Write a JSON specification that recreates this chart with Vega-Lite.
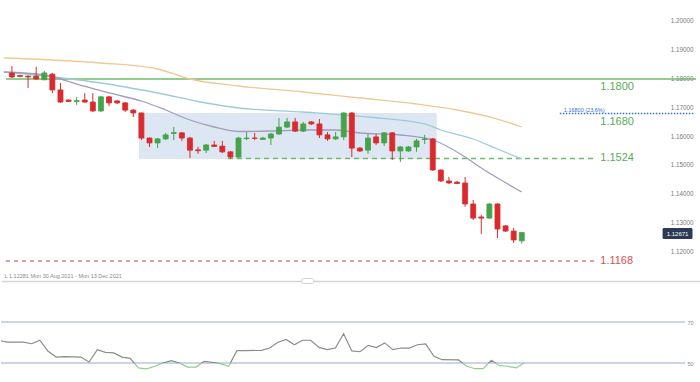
{
  "$schema": "https://vega.github.io/schema/vega-lite/v6.json",
  "padding": 0,
  "spacing": 0,
  "bounds": "flush",
  "config": {"view": {"stroke": null}, "font": "Liberation Sans", "axis": {"grid": false, "title": null}},
  "resolve": {"scale": {"x": "independent", "y": "independent"}},
  "datasets": {
    "candles": [
      {"i":0,"o":1.18208,"h":1.18451,"l":1.18035,"c":1.18069},
      {"i":1,"o":1.1812,"h":1.1814,"l":1.1806,"c":1.1809},
      {"i":2,"o":1.1810,"h":1.1812,"l":1.1769,"c":1.1807},
      {"i":3,"o":1.1810,"h":1.1842,"l":1.1797,"c":1.1800},
      {"i":4,"o":1.1797,"h":1.1828,"l":1.1797,"c":1.1821},
      {"i":5,"o":1.1817,"h":1.1821,"l":1.1751,"c":1.1762},
      {"i":6,"o":1.1762,"h":1.1786,"l":1.1717,"c":1.1720},
      {"i":7,"o":1.1727,"h":1.1729,"l":1.1720,"c":1.1722},
      {"i":8,"o":1.1722,"h":1.1738,"l":1.1710,"c":1.1725},
      {"i":9,"o":1.1727,"h":1.1751,"l":1.1717,"c":1.1720},
      {"i":10,"o":1.1720,"h":1.1751,"l":1.1685,"c":1.1689},
      {"i":11,"o":1.1689,"h":1.1741,"l":1.1685,"c":1.1738},
      {"i":12,"o":1.1738,"h":1.1741,"l":1.1706,"c":1.1717},
      {"i":13,"o":1.1724,"h":1.1727,"l":1.1713,"c":1.1717},
      {"i":14,"o":1.1717,"h":1.1720,"l":1.1685,"c":1.1692},
      {"i":15,"o":1.1692,"h":1.1696,"l":1.1668,"c":1.1682},
      {"i":16,"o":1.1682,"h":1.1684,"l":1.1588,"c":1.1595},
      {"i":17,"o":1.1595,"h":1.1597,"l":1.1564,"c":1.1578},
      {"i":18,"o":1.1578,"h":1.1595,"l":1.1560,"c":1.1592},
      {"i":19,"o":1.1592,"h":1.1613,"l":1.1588,"c":1.1606},
      {"i":20,"o":1.1611,"h":1.1633,"l":1.1588,"c":1.1614},
      {"i":21,"o":1.1613,"h":1.1616,"l":1.1585,"c":1.1595},
      {"i":22,"o":1.1595,"h":1.1599,"l":1.1526,"c":1.1553},
      {"i":23,"o":1.1554,"h":1.1564,"l":1.1540,"c":1.1551},
      {"i":24,"o":1.1553,"h":1.1574,"l":1.1543,"c":1.1571},
      {"i":25,"o":1.1571,"h":1.1585,"l":1.1564,"c":1.1566},
      {"i":26,"o":1.1567,"h":1.1585,"l":1.1543,"c":1.1547},
      {"i":27,"o":1.1547,"h":1.1550,"l":1.1522,"c":1.1529},
      {"i":28,"o":1.1529,"h":1.1599,"l":1.1526,"c":1.1595},
      {"i":29,"o":1.1593,"h":1.1616,"l":1.1588,"c":1.1595},
      {"i":30,"o":1.1595,"h":1.1613,"l":1.1588,"c":1.1594},
      {"i":31,"o":1.1590,"h":1.1599,"l":1.1588,"c":1.1595},
      {"i":32,"o":1.1595,"h":1.1613,"l":1.1571,"c":1.1609},
      {"i":33,"o":1.1609,"h":1.1665,"l":1.1606,"c":1.1633},
      {"i":34,"o":1.1633,"h":1.1665,"l":1.1630,"c":1.1651},
      {"i":35,"o":1.1651,"h":1.1665,"l":1.1616,"c":1.1619},
      {"i":36,"o":1.1619,"h":1.1651,"l":1.1616,"c":1.1644},
      {"i":37,"o":1.1651,"h":1.1654,"l":1.1640,"c":1.1644},
      {"i":38,"o":1.1644,"h":1.1661,"l":1.1595,"c":1.1606},
      {"i":39,"o":1.1606,"h":1.1616,"l":1.1585,"c":1.1592},
      {"i":40,"o":1.1592,"h":1.1616,"l":1.1588,"c":1.1599},
      {"i":41,"o":1.1599,"h":1.1685,"l":1.1588,"c":1.1682},
      {"i":42,"o":1.1682,"h":1.1685,"l":1.1529,"c":1.1560},
      {"i":43,"o":1.1560,"h":1.1564,"l":1.1547,"c":1.1550},
      {"i":44,"o":1.1553,"h":1.1609,"l":1.1540,"c":1.1595},
      {"i":45,"o":1.1599,"h":1.1609,"l":1.1571,"c":1.1578},
      {"i":46,"o":1.1578,"h":1.1616,"l":1.1567,"c":1.1613},
      {"i":47,"o":1.1613,"h":1.1616,"l":1.1519,"c":1.1550},
      {"i":48,"o":1.1550,"h":1.1567,"l":1.1512,"c":1.1564},
      {"i":49,"o":1.1550,"h":1.1567,"l":1.1547,"c":1.1564},
      {"i":50,"o":1.1564,"h":1.1592,"l":1.1547,"c":1.1585},
      {"i":51,"o":1.1590,"h":1.1606,"l":1.1574,"c":1.1592},
      {"i":52,"o":1.1592,"h":1.1595,"l":1.1481,"c":1.1484},
      {"i":53,"o":1.1484,"h":1.1486,"l":1.1442,"c":1.1446},
      {"i":54,"o":1.1446,"h":1.1460,"l":1.1435,"c":1.1439},
      {"i":55,"o":1.1442,"h":1.1446,"l":1.1435,"c":1.1437},
      {"i":56,"o":1.1439,"h":1.1460,"l":1.1356,"c":1.1366},
      {"i":57,"o":1.1366,"h":1.1380,"l":1.1310,"c":1.1317},
      {"i":58,"o":1.1321,"h":1.1328,"l":1.1262,"c":1.1317},
      {"i":59,"o":1.1317,"h":1.1369,"l":1.1314,"c":1.1366},
      {"i":60,"o":1.1366,"h":1.1369,"l":1.1248,"c":1.1279},
      {"i":61,"o":1.1290,"h":1.1293,"l":1.1269,"c":1.1272},
      {"i":62,"o":1.1272,"h":1.1283,"l":1.1231,"c":1.1241},
      {"i":63,"o":1.1238,"h":1.1269,"l":1.12281,"c":1.12671}
    ],
    "ma": [
      {"s":"ma100","i":-1,"v":1.18729},{"s":"ma100","i":5,"v":1.18660},{"s":"ma100","i":11,"v":1.18556},{"s":"ma100","i":18,"v":1.18347},{"s":"ma100","i":22,"v":1.18000},{"s":"ma100","i":28,"v":1.17757},{"s":"ma100","i":36,"v":1.17549},{"s":"ma100","i":43,"v":1.17340},{"s":"ma100","i":50,"v":1.17132},{"s":"ma100","i":55,"v":1.16924},{"s":"ma100","i":60,"v":1.16611},{"s":"ma100","i":63,"v":1.16333},
      {"s":"ma50","i":-1,"v":1.18243},{"s":"ma50","i":4,"v":1.18104},{"s":"ma50","i":11,"v":1.17861},{"s":"ma50","i":18,"v":1.17514},{"s":"ma50","i":24,"v":1.17167},{"s":"ma50","i":28,"v":1.16993},{"s":"ma50","i":36,"v":1.16854},{"s":"ma50","i":44,"v":1.16681},{"s":"ma50","i":51,"v":1.16438},{"s":"ma50","i":53,"v":1.16229},{"s":"ma50","i":57,"v":1.15917},{"s":"ma50","i":60,"v":1.15569},{"s":"ma50","i":63,"v":1.15222},
      {"s":"ma20","i":-1,"v":1.18243},{"s":"ma20","i":4,"v":1.18139},{"s":"ma20","i":8,"v":1.17826},{"s":"ma20","i":12,"v":1.17514},{"s":"ma20","i":16,"v":1.17236},{"s":"ma20","i":19,"v":1.16924},{"s":"ma20","i":22,"v":1.16576},{"s":"ma20","i":25,"v":1.16333},{"s":"ma20","i":28,"v":1.16177},{"s":"ma20","i":32,"v":1.16194},{"s":"ma20","i":36,"v":1.16229},{"s":"ma20","i":40,"v":1.16229},{"s":"ma20","i":43,"v":1.16125},{"s":"ma20","i":48,"v":1.16056},{"s":"ma20","i":52,"v":1.15882},{"s":"ma20","i":56,"v":1.15292},{"s":"ma20","i":58,"v":1.14910},{"s":"ma20","i":60,"v":1.14563},{"s":"ma20","i":63,"v":1.14076}
    ],
    "rsi": [
      {"i":-1,"v":61.1},{"i":0,"v":60.2},{"i":2,"v":60.2},{"i":3,"v":59.4},{"i":4,"v":61.1},{"i":5,"v":55.7},{"i":6,"v":52.9},{"i":7,"v":53.1},{"i":9,"v":52.9},{"i":10,"v":50.5},{"i":11,"v":56.5},{"i":12,"v":55.2},{"i":13,"v":54.9},{"i":14,"v":52.9},{"i":15,"v":52.3},{"i":16,"v":47.6},{"i":17,"v":47.1},{"i":18,"v":48.4},{"i":19,"v":50},{"i":20,"v":51.1},{"i":21,"v":50},{"i":22,"v":48},{"i":23,"v":48},{"i":24,"v":50.8},{"i":25,"v":50.3},{"i":26,"v":49.7},{"i":27,"v":48.4},{"i":28,"v":56},{"i":29,"v":56},{"i":31,"v":56.2},{"i":32,"v":57.3},{"i":33,"v":60.1},{"i":34,"v":61.5},{"i":35,"v":58.9},{"i":36,"v":61.1},{"i":37,"v":61.1},{"i":38,"v":57.6},{"i":39,"v":56.5},{"i":40,"v":57.3},{"i":41,"v":64.3},{"i":42,"v":55.9},{"i":43,"v":55.5},{"i":44,"v":58.6},{"i":45,"v":57.5},{"i":46,"v":59.8},{"i":47,"v":56.5},{"i":48,"v":57.3},{"i":49,"v":57.3},{"i":50,"v":58.9},{"i":51,"v":59.3},{"i":52,"v":53.3},{"i":53,"v":51.6},{"i":55,"v":51.5},{"i":56,"v":48.4},{"i":57,"v":47.2},{"i":58,"v":47.2},{"i":59,"v":51.3},{"i":60,"v":48.7},{"i":61,"v":48.4},{"i":62,"v":47.6},{"i":63,"v":50}
    ],
    "levels": [
      {"level":1.18,"label":"1.1800","kind":"res"},
      {"level":1.168,"label":"1.1680","kind":"fib"},
      {"level":1.1524,"label":"1.1524","kind":"sup"},
      {"level":1.1168,"label":"1.1168","kind":"tgt"}
    ],
    "ticks": [{"t":1.12},{"t":1.13},{"t":1.14},{"t":1.15},{"t":1.16},{"t":1.17},{"t":1.18},{"t":1.19},{"t":1.20}],
    "rsiLevels": [{"v":70},{"v":50}],
    "last": [{"price":1.12671,"label":"1.12671","note":"L 1.12281   Mon 30 Aug 2021 - Mon 13 Dec 2021"}]
  },
  "vconcat": [
    {
      "width": 700,
      "height": 281,
      "layer": [
        {
          "data": {"name": "last"},
          "mark": {"type": "rect", "fill": "#dbe5f2", "opacity": 0.95},
          "encoding": {
            "x": {"datum": 15.7, "type": "quantitative", "scale": {"domain": [-0.73, 84.53], "nice": false, "zero": false}, "axis": {"domain": true, "domainColor": "#d4d4d4", "domainWidth": 1.5, "ticks": false, "labels": false, "title": null}},
            "x2": {"datum": 52.5},
            "y": {"datum": 1.15222, "type": "quantitative", "scale": {"domain": [1.10986, 1.20743], "nice": false, "zero": false}, "axis": null},
            "y2": {"datum": 1.16819}
          }
        },
        {
          "data": {"name": "ticks"},
          "mark": {"type": "text", "align": "left", "baseline": "middle", "fontSize": 6.3, "fill": "#7a7a7a"},
          "encoding": {
            "x": {"datum": 81.4, "type": "quantitative", "scale": {"domain": [-0.73, 84.53], "nice": false, "zero": false}},
            "y": {"field": "t", "type": "quantitative", "scale": {"domain": [1.10986, 1.20743], "nice": false, "zero": false}},
            "text": {"field": "t", "format": ".5f"}
          }
        },
        {
          "data": {"name": "levels"},
          "transform": [{"filter": "datum.kind == 'res'"}],
          "mark": {"type": "rule", "color": "#6dbd6d", "strokeWidth": 1.5},
          "encoding": {"x": {"datum": -0.73, "type": "quantitative", "scale": {"domain": [-0.73, 84.53], "nice": false, "zero": false}}, "x2": {"datum": 84.53}, "y": {"field": "level", "type": "quantitative", "scale": {"domain": [1.10986, 1.20743], "nice": false, "zero": false}}}
        },
        {
          "data": {"name": "levels"},
          "transform": [{"filter": "datum.kind == 'fib'"}],
          "mark": {"type": "rule", "color": "#3a6fc0", "strokeWidth": 1.6, "strokeDash": [1.5, 1.5]},
          "encoding": {"x": {"datum": 67.7, "type": "quantitative", "scale": {"domain": [-0.73, 84.53], "nice": false, "zero": false}}, "x2": {"datum": 84.3}, "y": {"field": "level", "type": "quantitative", "scale": {"domain": [1.10986, 1.20743], "nice": false, "zero": false}}}
        },
        {
          "data": {"name": "levels"},
          "transform": [{"filter": "datum.kind == 'sup'"}],
          "mark": {"type": "rule", "color": "#6dbb6d", "strokeWidth": 1.3, "strokeDash": [5, 4]},
          "encoding": {"x": {"datum": 26.7, "type": "quantitative", "scale": {"domain": [-0.73, 84.53], "nice": false, "zero": false}}, "x2": {"datum": 72.1}, "y": {"field": "level", "type": "quantitative", "scale": {"domain": [1.10986, 1.20743], "nice": false, "zero": false}}}
        },
        {
          "data": {"name": "levels"},
          "transform": [{"filter": "datum.kind == 'tgt'"}],
          "mark": {"type": "rule", "color": "#e07878", "strokeWidth": 1.3, "strokeDash": [4, 4]},
          "encoding": {"x": {"datum": -0.73, "type": "quantitative", "scale": {"domain": [-0.73, 84.53], "nice": false, "zero": false}}, "x2": {"datum": 72.1}, "y": {"field": "level", "type": "quantitative", "scale": {"domain": [1.10986, 1.20743], "nice": false, "zero": false}}}
        },
        {
          "data": {"name": "ma"},
          "mark": {"type": "line", "strokeWidth": 1.3, "clip": true, "interpolate": "monotone"},
          "encoding": {
            "x": {"field": "i", "type": "quantitative", "scale": {"domain": [-0.73, 84.53], "nice": false, "zero": false}},
            "y": {"field": "v", "type": "quantitative", "scale": {"domain": [1.10986, 1.20743], "nice": false, "zero": false}},
            "color": {"field": "s", "type": "nominal", "scale": {"domain": ["ma20", "ma50", "ma100"], "range": ["#a39cbd", "#9ccbd8", "#efc995"]}, "legend": null}
          }
        },
        {
          "data": {"name": "candles"},
          "mark": {"type": "rule", "strokeWidth": 1},
          "encoding": {
            "x": {"field": "i", "type": "quantitative", "scale": {"domain": [-0.73, 84.53], "nice": false, "zero": false}},
            "y": {"field": "l", "type": "quantitative", "scale": {"domain": [1.10986, 1.20743], "nice": false, "zero": false}},
            "y2": {"field": "h"},
            "stroke": {"condition": {"test": "datum.c >= datum.o", "value": "#45a34b"}, "value": "#d92b2f"}
          }
        },
        {
          "data": {"name": "candles"},
          "mark": {"type": "bar", "size": 5, "strokeWidth": 0.8},
          "encoding": {
            "x": {"field": "i", "type": "quantitative", "scale": {"domain": [-0.73, 84.53], "nice": false, "zero": false}},
            "y": {"field": "o", "type": "quantitative", "scale": {"domain": [1.10986, 1.20743], "nice": false, "zero": false}},
            "y2": {"field": "c"},
            "fill": {"condition": {"test": "datum.c >= datum.o", "value": "#45a34b"}, "value": "#d92b2f"},
            "stroke": {"condition": {"test": "datum.c >= datum.o", "value": "#45a34b"}, "value": "#d92b2f"}
          }
        },
        {
          "data": {"name": "levels"},
          "transform": [{"filter": "datum.kind == 'res' || datum.kind == 'fib'"}],
          "mark": {"type": "text", "align": "left", "baseline": "middle", "dy": 8, "fontSize": 11, "fill": "#5aaa5a"},
          "encoding": {"x": {"datum": 72.7, "type": "quantitative", "scale": {"domain": [-0.73, 84.53], "nice": false, "zero": false}}, "y": {"field": "level", "type": "quantitative", "scale": {"domain": [1.10986, 1.20743], "nice": false, "zero": false}}, "text": {"field": "label"}}
        },
        {
          "data": {"name": "levels"},
          "transform": [{"filter": "datum.kind == 'sup'"}],
          "mark": {"type": "text", "align": "left", "baseline": "middle", "fontSize": 11, "fill": "#5aaa5a"},
          "encoding": {"x": {"datum": 72.7, "type": "quantitative", "scale": {"domain": [-0.73, 84.53], "nice": false, "zero": false}}, "y": {"field": "level", "type": "quantitative", "scale": {"domain": [1.10986, 1.20743], "nice": false, "zero": false}}, "text": {"field": "label"}}
        },
        {
          "data": {"name": "levels"},
          "transform": [{"filter": "datum.kind == 'tgt'"}],
          "mark": {"type": "text", "align": "left", "baseline": "middle", "fontSize": 11, "fill": "#d9534f"},
          "encoding": {"x": {"datum": 72.7, "type": "quantitative", "scale": {"domain": [-0.73, 84.53], "nice": false, "zero": false}}, "y": {"field": "level", "type": "quantitative", "scale": {"domain": [1.10986, 1.20743], "nice": false, "zero": false}}, "text": {"field": "label"}}
        },
        {
          "data": {"name": "levels"},
          "transform": [{"filter": "datum.kind == 'fib'"}],
          "mark": {"type": "text", "align": "left", "baseline": "middle", "dy": -4, "fontSize": 5.5, "fill": "#3a6fc0"},
          "encoding": {"x": {"datum": 68.2, "type": "quantitative", "scale": {"domain": [-0.73, 84.53], "nice": false, "zero": false}}, "y": {"field": "level", "type": "quantitative", "scale": {"domain": [1.10986, 1.20743], "nice": false, "zero": false}}, "text": {"value": "1.16800 (23.6%)"}}
        },
        {
          "data": {"name": "last"},
          "mark": {"type": "rect", "fill": "#2c3a56", "cornerRadius": 1.5},
          "encoding": {"x": {"datum": 80.4, "type": "quantitative", "scale": {"domain": [-0.73, 84.53], "nice": false, "zero": false}}, "x2": {"datum": 84.1}, "y": {"datum": 1.12826, "type": "quantitative", "scale": {"domain": [1.10986, 1.20743], "nice": false, "zero": false}}, "y2": {"datum": 1.12444}}
        },
        {
          "data": {"name": "last"},
          "mark": {"type": "text", "align": "center", "baseline": "middle", "fontSize": 6, "fill": "#ffffff"},
          "encoding": {"x": {"datum": 82.25, "type": "quantitative", "scale": {"domain": [-0.73, 84.53], "nice": false, "zero": false}}, "y": {"datum": 1.12635, "type": "quantitative", "scale": {"domain": [1.10986, 1.20743], "nice": false, "zero": false}}, "text": {"field": "label"}}
        },
        {
          "data": {"name": "last"},
          "mark": {"type": "text", "align": "left", "baseline": "middle", "fontSize": 5.5, "fill": "#8a8a8a"},
          "encoding": {"x": {"datum": -0.9, "type": "quantitative", "scale": {"domain": [-0.73, 84.53], "nice": false, "zero": false}}, "y": {"datum": 1.1116, "type": "quantitative", "scale": {"domain": [1.10986, 1.20743], "nice": false, "zero": false}}, "text": {"field": "note"}}
        },
        {
          "data": {"name": "last"},
          "mark": {"type": "rect", "fill": "#ffffff", "stroke": "#c8c8c8", "strokeWidth": 0.8, "cornerRadius": 2},
          "encoding": {"x": {"datum": 35.8, "type": "quantitative", "scale": {"domain": [-0.73, 84.53], "nice": false, "zero": false}}, "x2": {"datum": 37.3}, "y": {"datum": 1.10899, "type": "quantitative", "scale": {"domain": [1.10986, 1.20743], "nice": false, "zero": false}}, "y2": {"datum": 1.11073}}
        }
      ]
    },
    {
      "width": 700,
      "height": 82,
      "layer": [
        {
          "data": {"name": "rsiLevels"},
          "mark": {"type": "rule", "color": "#b9c8dc", "strokeWidth": 1.6},
          "encoding": {
            "x": {"datum": -0.73, "type": "quantitative", "scale": {"domain": [-0.73, 84.53], "nice": false, "zero": false}, "axis": null},
            "x2": {"datum": 82.6},
            "y": {"field": "v", "type": "quantitative", "scale": {"domain": [50, 90], "nice": false, "zero": false}, "axis": {"orient": "right", "offset": -14, "values": [50, 70], "domain": false, "ticks": false, "labelAlign": "left", "labelPadding": 0, "labelFontSize": 5.5, "labelColor": "#8a8a8a", "title": null}}
          }
        },
        {
          "data": {"name": "rsi"},
          "mark": {"type": "line", "color": "#8c8c8c", "strokeWidth": 1.2, "clip": true},
          "encoding": {
            "x": {"field": "i", "type": "quantitative", "scale": {"domain": [-0.73, 84.53], "nice": false, "zero": false}},
            "y": {"field": "v", "type": "quantitative", "scale": {"domain": [50, 90], "nice": false, "zero": false}}
          }
        }
      ]
    },
    {
      "width": 700,
      "height": 19,
      "layer": [
        {
          "data": {"name": "rsi"},
          "mark": {"type": "line", "color": "#8fcf8f", "strokeWidth": 1.2, "clip": true},
          "encoding": {
            "x": {"field": "i", "type": "quantitative", "scale": {"domain": [-0.73, 84.53], "nice": false, "zero": false}, "axis": null},
            "y": {"field": "v", "type": "quantitative", "scale": {"domain": [40.7, 50], "nice": false, "zero": false}, "axis": null}
          }
        }
      ]
    }
  ]
}
